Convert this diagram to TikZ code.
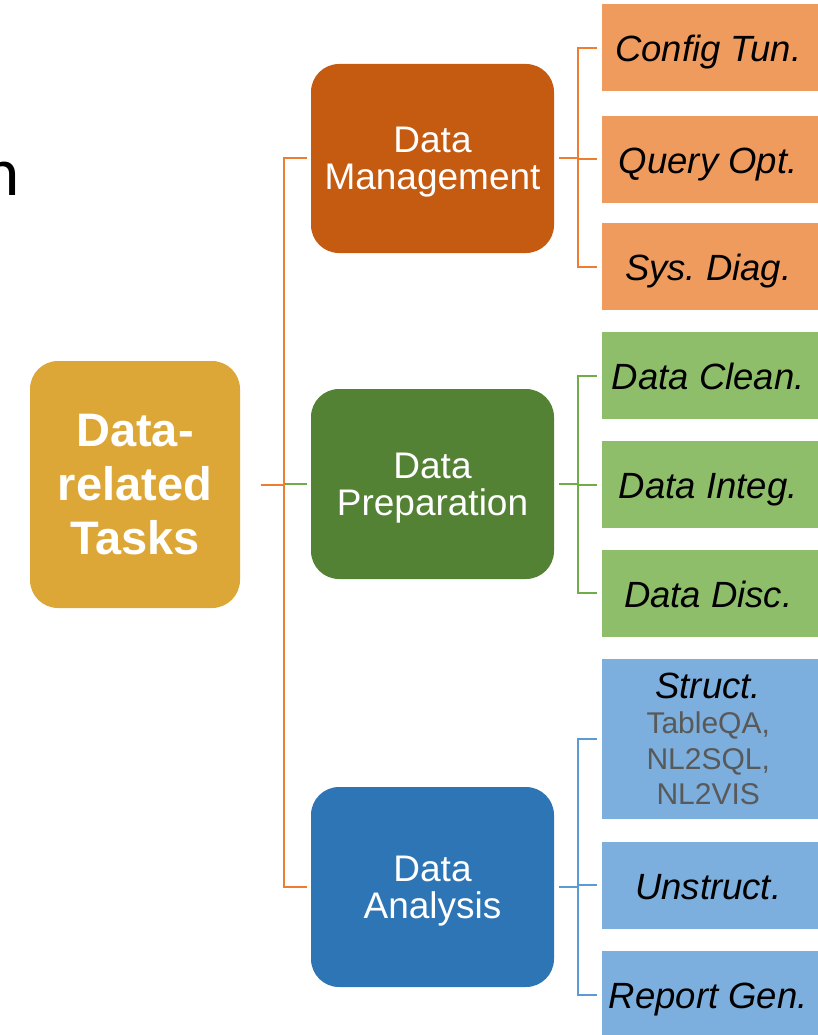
\documentclass[tikz,border=0pt]{standalone}
\usepackage{fontspec}
\setmainfont{Liberation Sans}
\newfontfamily\glyphfont{Carlito}
\frenchspacing

\definecolor{rootfill}{HTML}{DCA737}
\definecolor{mgmtfill}{HTML}{C55A11}
\definecolor{prepfill}{HTML}{548235}
\definecolor{anlfill}{HTML}{2E75B6}
\definecolor{mgmtleaf}{HTML}{F09B5E}
\definecolor{prepleaf}{HTML}{8FBE6B}
\definecolor{anlleaf}{HTML}{7CAFDD}
\definecolor{mgmtline}{HTML}{ED7D31}
\definecolor{prepline}{HTML}{70AD47}
\definecolor{anlline}{HTML}{5B9BD5}
\definecolor{subgray}{HTML}{595959}

% leaf labels: centred in the visible part of a box that runs past the edge
\newcommand\leaflabel[1]{\makebox[212pt][c]{#1}\hspace*{12pt}}
\newcommand\leafblock[1]{\parbox{212pt}{\centering #1}\hspace*{12pt}}

\begin{document}
\begin{tikzpicture}[x=1pt,y=-1pt,
  rootbox/.style={fill=rootfill, rounded corners=28pt, minimum width=210pt,
    minimum height=247pt, inner sep=0pt, text=white, align=center,
    font=\bfseries\fontsize{47}{54}\selectfont},
  midbox/.style={rounded corners=28pt, minimum width=243pt, inner sep=0pt,
    text=white, align=center, text depth=0pt, font=\fontsize{37}{37}\selectfont},
  leafbase/.style={anchor=west, inner sep=0pt,
    font=\itshape\fontsize{36.5}{35.5}\selectfont},
  leafbox/.style={leafbase, minimum height=87pt, text height=28pt, text depth=0pt},
  link/.style={line width=2pt},
]
\useasboundingbox (0,0) rectangle (818,1035);
\clip (0,0) rectangle (818,1035);

% cut-off glyph at the top left
\node[anchor=base east, inner sep=0pt, font=\glyphfont\fontsize{69}{69}\selectfont] (frag) at (20,196) {n};

% root and the three task groups
\node[rootbox] (root) at (135,484.5) {Data-\\related\\Tasks};
\node[midbox, fill=mgmtfill, minimum height=189pt] (dm) at (432.5,158.5) {Data\\Management};
\node[midbox, fill=prepfill, minimum height=190pt] (dp) at (432.5,484) {Data\\Preparation};
\node[midbox, fill=anlfill, minimum height=200pt] (da) at (432.5,887) {Data\\Analysis};

% leaves
\node[leafbox, fill=mgmtleaf] (m1) at (602,48) {\leaflabel{Config Tun.}};
\node[leafbox, fill=mgmtleaf] (m2) at (602,159.5) {\leaflabel{Query Opt.}};
\node[leafbox, fill=mgmtleaf] (m3) at (602,266.5) {\leaflabel{Sys. Diag.}};
\node[leafbox, fill=prepleaf] (p1) at (602,375.5) {\leaflabel{Data Clean.}};
\node[leafbox, fill=prepleaf] (p2) at (602,484.5) {\leaflabel{Data Integ.}};
\node[leafbox, fill=prepleaf] (p3) at (602,593) {\leaflabel{Data Disc.}};
\node[leafbase, fill=anlleaf, minimum height=160pt] (a1) at (602,739)
  {\leafblock{Struct.\\{\upshape\color{subgray}\fontsize{30}{35.5}\selectfont TableQA,\\NL2SQL,\\NL2VIS}}};
\node[leafbox, fill=anlleaf] (a2) at (602,885) {\leaflabel{Unstruct.}};
\node[leafbox, fill=anlleaf] (a3) at (602,994.5) {\leaflabel{Report Gen.}};

% trunk and bracket positions
\coordinate (tk) at (284,484.5);
\coordinate (bx) at (578,0);

% trunk from the root to the groups
\draw[link, prepline, shorten >=4pt] (tk |- dp.west) -- (dp.west);
\draw[link, mgmtline, shorten <=21pt] (root.east) -- (tk |- root.east);
\draw[link, mgmtline, shorten <=4pt, shorten >=4pt]
  (dm.west) -- (tk |- dm.west) -- (tk |- da.west) -- (da.west);

% brackets from each group to its leaves
\draw[link, mgmtline, shorten <=5pt] (dm.east) -- (bx |- dm.east);
\draw[link, mgmtline, shorten <=5pt, shorten >=5pt]
  (m1.west) -- (bx |- m1.west) -- (bx |- m3.west) -- (m3.west);
\draw[link, mgmtline, shorten >=5pt] (bx |- m2.west) -- (m2.west);

\draw[link, prepline, shorten <=5pt] (dp.east) -- (bx |- dp.east);
\draw[link, prepline, shorten <=5pt, shorten >=5pt]
  (p1.west) -- (bx |- p1.west) -- (bx |- p3.west) -- (p3.west);
\draw[link, prepline, shorten >=5pt] (bx |- p2.west) -- (p2.west);

\draw[link, anlline, shorten <=5pt] (da.east) -- (bx |- da.east);
\draw[link, anlline, shorten <=5pt, shorten >=5pt]
  (a1.west) -- (bx |- a1.west) -- (bx |- a3.west) -- (a3.west);
\draw[link, anlline, shorten >=5pt] (bx |- a2.west) -- (a2.west);
\end{tikzpicture}
\end{document}
